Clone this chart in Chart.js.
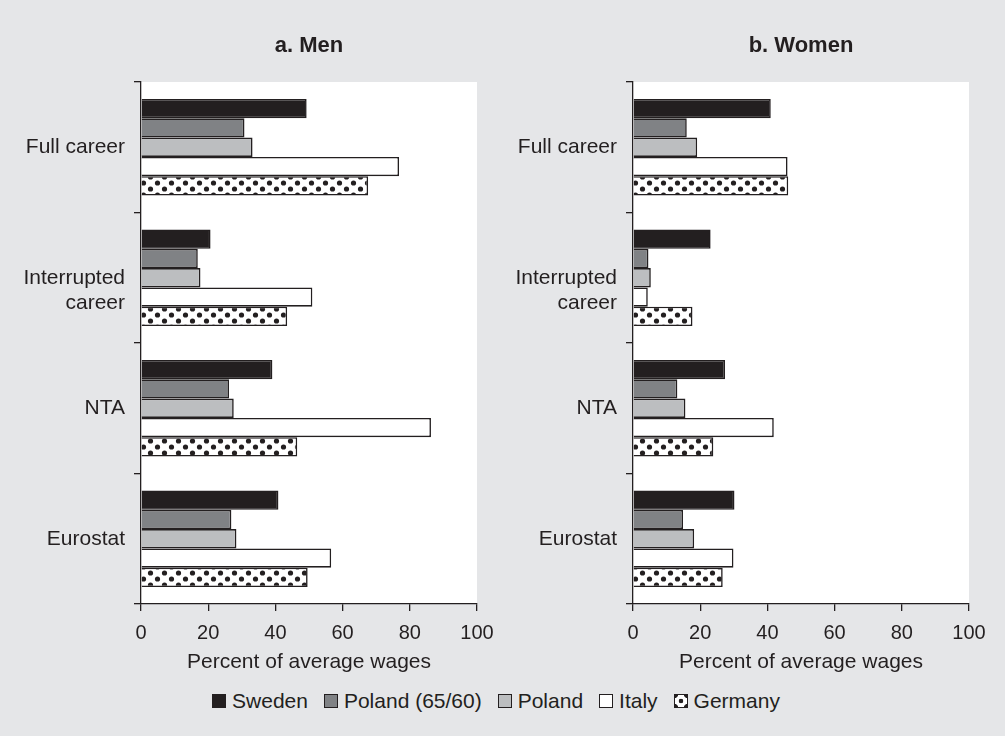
<!DOCTYPE html>
<html>
<head>
<meta charset="utf-8">
<script src="https://cdn.jsdelivr.net/npm/chart.js@4.4.1/dist/chart.umd.min.js"></script>
<style>
  body { margin: 0; background: #e5e6e8; font-family: "Liberation Sans", Arial, sans-serif; color: #231f20; }
  #wrap { position: relative; width: 1005px; height: 736px; overflow: hidden; }
  .box { position: absolute; top: 0; height: 680px; }
  #legend { position: absolute; left: 0; width: 992px; top: 689px; display: flex; justify-content: center; font-size: 21px; }
  #legend span.item { display: flex; align-items: center; margin: 0 8px; }
  #legend i { display: inline-block; width: 14px; height: 14px; border: 1px solid #231f20; margin-right: 6px; box-sizing: border-box; }
</style>
</head>
<body>
<div id="wrap">
  <div class="box" style="left:0;width:495px"><canvas id="men"></canvas></div>
  <div class="box" style="left:492px;width:498px"><canvas id="women"></canvas></div>
  <div id="legend"></div>
</div>
<script>
const categories = ['Full career', ['', 'Interrupted', 'career'], 'NTA', 'Eurostat'];
const seriesNames = ['Sweden', 'Poland (65/60)', 'Poland', 'Italy', 'Germany'];
const xTicks = [0, 20, 40, 60, 80, 100];

// Men, percent of average wages
const menSweden  = [49.3, 20.7, 39.1, 40.9];
const menPol6560 = [30.8, 16.9, 26.2, 26.9];
const menPoland  = [33.2, 17.7, 27.6, 28.4];
const menItaly   = [76.8, 51.0, 86.3, 56.6];
const menGermany = [67.6, 43.5, 46.5, 49.6];

// Women
const womenSweden  = [41.0, 23.1, 27.4, 30.2];
const womenPol6560 = [16.0, 4.6, 13.2, 14.9];
const womenPoland  = [19.1, 5.3, 15.6, 18.2];
const womenItaly   = [46.0, 4.4, 41.9, 29.9];
const womenGermany = [46.2, 17.7, 23.9, 26.7];

const ink = '#231f20';
const FONT = '"Liberation Sans", Arial, sans-serif';

function dotPattern() {
  const c = document.createElement('canvas');
  c.width = 14; c.height = 12;
  const g = c.getContext('2d');
  g.fillStyle = '#fff';
  g.fillRect(0, 0, 14, 12);
  g.fillStyle = ink;
  [[3.5, 3], [10.5, 9]].forEach(([x, y]) => {
    g.beginPath(); g.arc(x, y, 2.6, 0, Math.PI * 2); g.fill();
  });
  return g.createPattern(c, 'repeat');
}
const dots = dotPattern();
const fills = [ink, '#808285', '#bcbec0', '#ffffff', dots];

const whiteArea = {
  id: 'whiteArea',
  beforeDraw(chart) {
    const { ctx, chartArea: a } = chart;
    ctx.save();
    ctx.fillStyle = '#fff';
    ctx.fillRect(a.left, a.top, a.right - a.left, a.bottom - a.top);
    ctx.restore();
  }
};

function makeChart(id, title, values) {
  new Chart(document.getElementById(id), {
    type: 'bar',
    data: {
      labels: categories,
      datasets: values.map((v, i) => ({
        label: seriesNames[i],
        data: v,
        backgroundColor: fills[i],
        borderColor: ink,
        borderWidth: 1.6,
        categoryPercentage: 0.74,
        barPercentage: 1
      }))
    },
    options: {
      indexAxis: 'y',
      responsive: true,
      maintainAspectRatio: false,
      animation: false,
      layout: { padding: { top: 23, right: id === 'men' ? 18 : 21, bottom: 0, left: 0 } },
      plugins: {
        legend: { display: false },
        tooltip: { enabled: false },
        title: {
          display: true, text: title, fullSize: false, color: ink,
          font: { family: FONT, size: 22, weight: 'bold' },
          padding: { top: 10, bottom: 22.6 }
        }
      },
      scales: {
        x: {
          min: 0, max: 100,
          afterBuildTicks: s => { s.ticks = xTicks.map(v => ({ value: v })); },
          afterFit: s => { s.height = 76; s.paddingRight = 0; },
          grid: { drawOnChartArea: false, tickLength: 7, color: ink, lineWidth: 1.3 },
          border: { color: ink, width: 1.3 },
          ticks: { color: ink, padding: 10, font: { family: FONT, size: 20 } },
          title: { display: true, text: 'Percent of average wages', color: ink,
                   font: { family: FONT, size: 21 }, padding: { top: 0, bottom: 5 } }
        },
        y: {
          afterFit: s => { s.width = 141; },
          grid: { drawOnChartArea: false, tickLength: 7, color: ink, lineWidth: 1.3, offset: true },
          border: { color: ink, width: 1.3 },
          ticks: { color: ink, padding: 9, font: { family: FONT, size: 21 } }
        }
      }
    },
    plugins: [whiteArea]
  });
}

makeChart('men', 'a. Men', [menSweden, menPol6560, menPoland, menItaly, menGermany]);
makeChart('women', 'b. Women', [womenSweden, womenPol6560, womenPoland, womenItaly, womenGermany]);

// legend built from the series names
const legendEl = document.getElementById('legend');
seriesNames.forEach((name, i) => {
  const item = document.createElement('span');
  item.className = 'item';
  const sw = document.createElement('i');
  if (i === 4) {
    sw.style.background = 'radial-gradient(circle at 50% 50%, ' + ink + ' 2px, transparent 2.6px),' +
      'radial-gradient(circle at 0 0, ' + ink + ' 2.6px, transparent 3.2px),' +
      'radial-gradient(circle at 100% 0, ' + ink + ' 2.6px, transparent 3.2px),' +
      'radial-gradient(circle at 0 100%, ' + ink + ' 2.6px, transparent 3.2px),' +
      'radial-gradient(circle at 100% 100%, ' + ink + ' 2.6px, transparent 3.2px), #fff';
  } else {
    sw.style.background = fills[i];
  }
  item.appendChild(sw);
  item.appendChild(document.createTextNode(name));
  legendEl.appendChild(item);
});
</script>
</body>
</html>
